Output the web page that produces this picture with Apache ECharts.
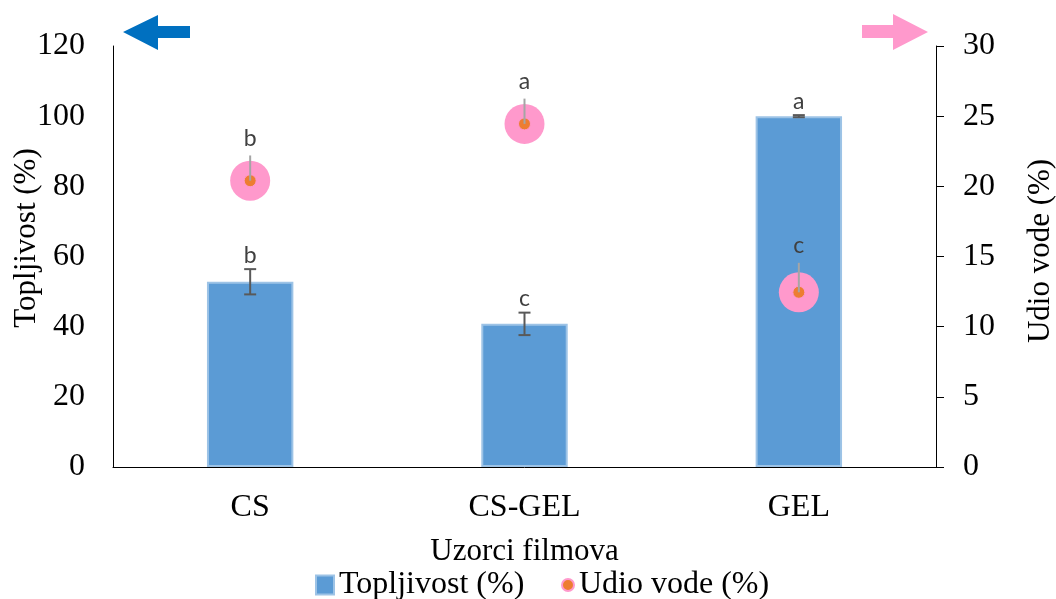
<!DOCTYPE html>
<html>
<head>
<meta charset="utf-8">
<script src="https://cdn.jsdelivr.net/npm/echarts@6/dist/echarts.min.js"></script>
<style>
html,body{margin:0;padding:0;background:#fff;}
#chart{width:1056px;height:599px;}
</style>
</head>
<body>
<div id="chart"></div>
<script>
// ---- data ----
var categories = ['CS', 'CS-GEL', 'GEL'];
var solubility = [52.8, 40.8, 100];
var solubilityErr = [3.6, 3.2, 0.3];
var solubilityLetters = ['b', 'c', 'a'];
var moisture = [20.4, 24.45, 12.45];
var moistureErr = [1.8, 1.8, 2.1];
var moistureLetters = ['b', 'a', 'c'];
var leftTicks = [0, 20, 40, 60, 80, 100, 120];
var rightTicks = [0, 5, 10, 15, 20, 25, 30];
var leftTitle = 'Topljivost (%)';
var rightTitle = 'Udio vode (%)';
var xTitle = 'Uzorci filmova';

var serif = '"Liberation Serif", "Times New Roman", serif';
var sans = 'Lato, "Open Sans", sans-serif';

var chart = echarts.init(document.getElementById('chart'), null, {renderer: 'canvas'});

var barErrData = categories.map(function (c, i) { return [i, solubility[i], solubilityErr[i]]; });
var moistErrData = categories.map(function (c, i) { return [i, moisture[i], moistureErr[i]]; });

function barErrRender(params, api) {
  var x = api.value(0), v = api.value(1), e = api.value(2);
  var top = api.coord([x, v + e]);
  var bot = api.coord([x, v - e]);
  var hw = 6;
  var st = {stroke: '#595959', lineWidth: 2};
  return {
    type: 'group',
    children: [
      {type: 'line', shape: {x1: top[0], y1: top[1], x2: bot[0], y2: bot[1]}, style: st},
      {type: 'line', shape: {x1: top[0] - hw, y1: top[1], x2: top[0] + hw, y2: top[1]}, style: st},
      {type: 'line', shape: {x1: bot[0] - hw, y1: bot[1], x2: bot[0] + hw, y2: bot[1]}, style: st},
      {type: 'text', x: top[0], y: top[1] - 14, style: {text: solubilityLetters[params.dataIndex], fill: '#404040', font: '23px ' + sans, align: 'center', verticalAlign: 'middle'}}
    ]
  };
}

function moistErrRender(params, api) {
  var x = api.value(0), v = api.value(1), e = api.value(2);
  var top = api.coord([x, v + e]);
  var mid = api.coord([x, v]);
  return {
    type: 'group',
    children: [
      {type: 'line', shape: {x1: mid[0], y1: mid[1], x2: top[0], y2: top[1]}, style: {stroke: '#A5A5A5', lineWidth: 2}},
      {type: 'text', x: top[0], y: top[1] - 17, style: {text: moistureLetters[params.dataIndex], fill: '#404040', font: '23px ' + sans, align: 'center', verticalAlign: 'middle'}}
    ]
  };
}

var option = {
  animation: false,
  backgroundColor: '#ffffff',
  grid: {left: 113, right: 120, top: 46, bottom: 132, containLabel: false, outerBoundsMode: 'none'},
  legend: [
    {
      data: ['Topljivost (%)'],
      left: 310, top: 564,
      icon: 'rect', itemWidth: 18, itemHeight: 19,
      textStyle: {fontFamily: serif, fontSize: 32, color: '#000'}
    },
    {
      data: ['Udio vode (%)'],
      left: 556, top: 564,
      icon: 'circle', itemWidth: 12, itemHeight: 12,
      textStyle: {fontFamily: serif, fontSize: 32, color: '#000'}
    }
  ],
  xAxis: {
    type: 'category',
    data: categories,
    name: xTitle,
    nameLocation: 'middle',
    nameGap: 69,
    nameTextStyle: {fontFamily: serif, fontSize: 31, color: '#000'},
    axisLine: {lineStyle: {color: '#000', width: 1}},
    axisTick: {show: false},
    axisLabel: {fontFamily: serif, fontSize: 32, color: '#000', margin: 25}
  },
  yAxis: [
    {
      type: 'value', min: 0, max: 120, interval: 20,
      axisLine: {show: true, lineStyle: {color: '#000', width: 1}},
      axisTick: {show: false},
      splitLine: {show: false},
      axisLabel: {fontFamily: serif, fontSize: 32, color: '#000', margin: 28,
        formatter: function (v) { return leftTicks.indexOf(v) >= 0 ? String(v) : ''; }}
    },
    {
      type: 'value', min: 0, max: 30, interval: 5, position: 'right',
      axisLine: {show: true, lineStyle: {color: '#000', width: 1}},
      axisTick: {show: true, inside: false, length: 8, lineStyle: {color: '#000', width: 1}},
      splitLine: {show: false},
      axisLabel: {fontFamily: serif, fontSize: 32, color: '#000', margin: 27,
        formatter: function (v) { return rightTicks.indexOf(v) >= 0 ? String(v) : ''; }}
    }
  ],
  graphic: [
    {type: 'polygon', z: 100, shape: {points: [[123, 32], [158, 15], [158, 26], [190, 26], [190, 38], [158, 38], [158, 50]]}, style: {fill: '#0070C0'}},
    {type: 'polygon', z: 100, shape: {points: [[928, 32], [893, 14], [893, 25], [862, 25], [862, 38], [893, 38], [893, 50]]}, style: {fill: '#FF99CC'}},
    {type: 'text', x: 27, y: 238, rotation: Math.PI / 2, z: 100,
      style: {text: leftTitle, font: '31px ' + serif, fill: '#000', align: 'center', verticalAlign: 'middle'}},
    {type: 'text', x: 1041, y: 251, rotation: Math.PI / 2, z: 100,
      style: {text: rightTitle, font: '31px ' + serif, fill: '#000', align: 'center', verticalAlign: 'middle'}}
  ],
  series: [
    {
      name: 'Topljivost (%)',
      type: 'bar',
      data: solubility,
      barWidth: '31.5%',
      itemStyle: {color: '#5B9BD5', borderColor: '#9DC3E6', borderWidth: 2},
      z: 2
    },
    {
      name: 'barErr',
      type: 'custom',
      data: barErrData,
      renderItem: barErrRender,
      z: 3,
      silent: true
    },
    {
      name: 'halo',
      type: 'scatter',
      yAxisIndex: 1,
      data: moisture.map(function (v, i) { return [i, v]; }),
      symbolSize: 40,
      itemStyle: {color: '#FF99CC', opacity: 1},
      z: 4
    },
    {
      name: 'Udio vode (%)',
      type: 'scatter',
      yAxisIndex: 1,
      data: moisture.map(function (v, i) { return [i, v]; }),
      symbolSize: 12,
      itemStyle: {color: '#ED7D31', borderColor: '#FF99CC', borderWidth: 1, opacity: 1},
      z: 5
    },
    {
      name: 'moistErr',
      type: 'custom',
      yAxisIndex: 1,
      data: moistErrData,
      renderItem: moistErrRender,
      z: 6,
      silent: true
    }
  ]
};
chart.setOption(option);
</script>
</body>
</html>
